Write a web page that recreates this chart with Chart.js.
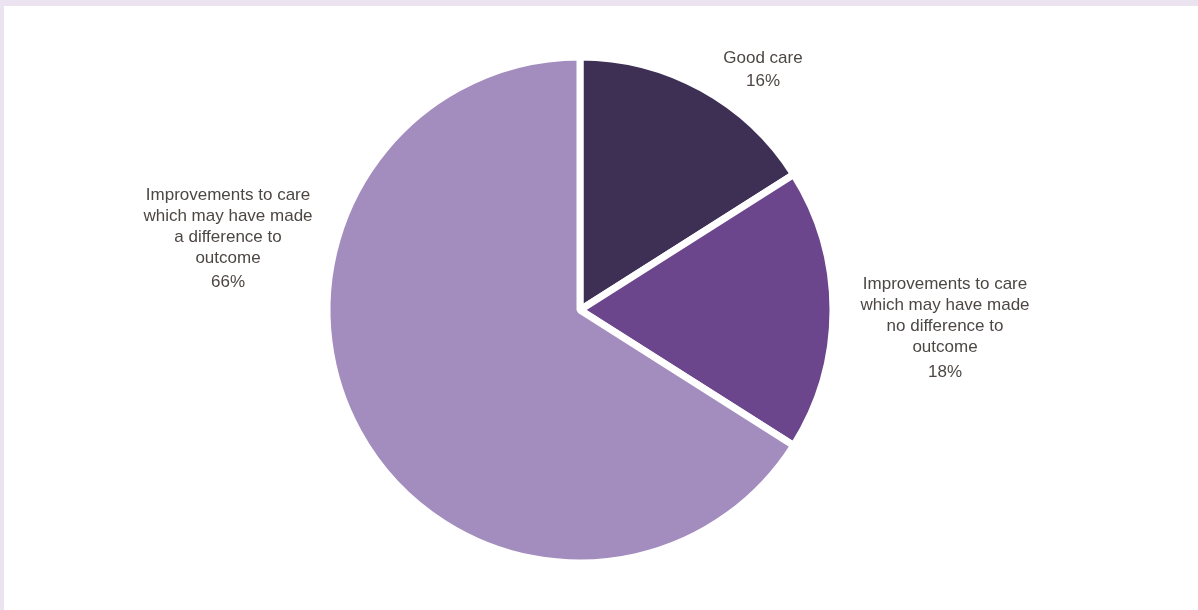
<!DOCTYPE html>
<html>
<head>
<meta charset="utf-8">
<script src="https://cdn.jsdelivr.net/npm/chart.js@4"></script>
<style>
  html, body { margin: 0; padding: 0; background: #ebe3f0; }
  #frame { position: absolute; left: 4px; top: 6px; width: 1194px; height: 604px; background: #fff; }
  canvas { display: block; }
</style>
</head>
<body>
<div id="frame"><canvas id="chart-care" width="1194" height="604"></canvas></div>
<script>
// Categories and shares (%)
const categories = [
    ['Good care'],
    ['Improvements to care', 'which may have made', 'no difference to', 'outcome'],
    ['Improvements to care', 'which may have made', 'a difference to', 'outcome']
];
const shares = [16, 18, 66];
const colors = ['#3e2f55', '#6c468c', '#a38cbe'];

// where each label block sits, relative to the pie centre (first line, px)
const labelOffsets = [[183, -252], [365, -26], [-352, -115]];
const pctGaps = [23, 25, 24];

const outsideLabels = {
    id: 'outsideLabels',
    afterDatasetsDraw(chart) {
        const ctx = chart.ctx;
        const arc = chart.getDatasetMeta(0).data[0];
        const cx = arc.x, cy = arc.y;
        ctx.save();
        ctx.fillStyle = '#4d4744';
        ctx.font = '17px "Liberation Sans", Arial, sans-serif';
        ctx.textAlign = 'center';
        ctx.textBaseline = 'middle';
        categories.forEach((lines, i) => {
            const [dx, dy] = labelOffsets[i];
            let y = cy + dy;
            lines.forEach((line, j) => {
                ctx.fillText(line, cx + dx, y);
                if (j < lines.length - 1) y += 21;
            });
            ctx.fillText(shares[i] + '%', cx + dx, y + pctGaps[i]);
        });
        ctx.restore();
    }
};

new Chart(document.getElementById('chart-care'), {
    type: 'pie',
    data: {
        labels: categories.map(l => l.join(' ')),
        datasets: [{
            data: shares,
            backgroundColor: colors,
            borderColor: '#ffffff',
            borderWidth: 7,
            radius: 253
        }]
    },
    options: {
        responsive: false,
        animation: false,
        layout: { padding: { left: 0, right: 42, top: 4, bottom: 0 } },
        plugins: {
            legend: { display: false },
            tooltip: { enabled: false }
        }
    },
    plugins: [outsideLabels]
});
</script>
</body>
</html>
